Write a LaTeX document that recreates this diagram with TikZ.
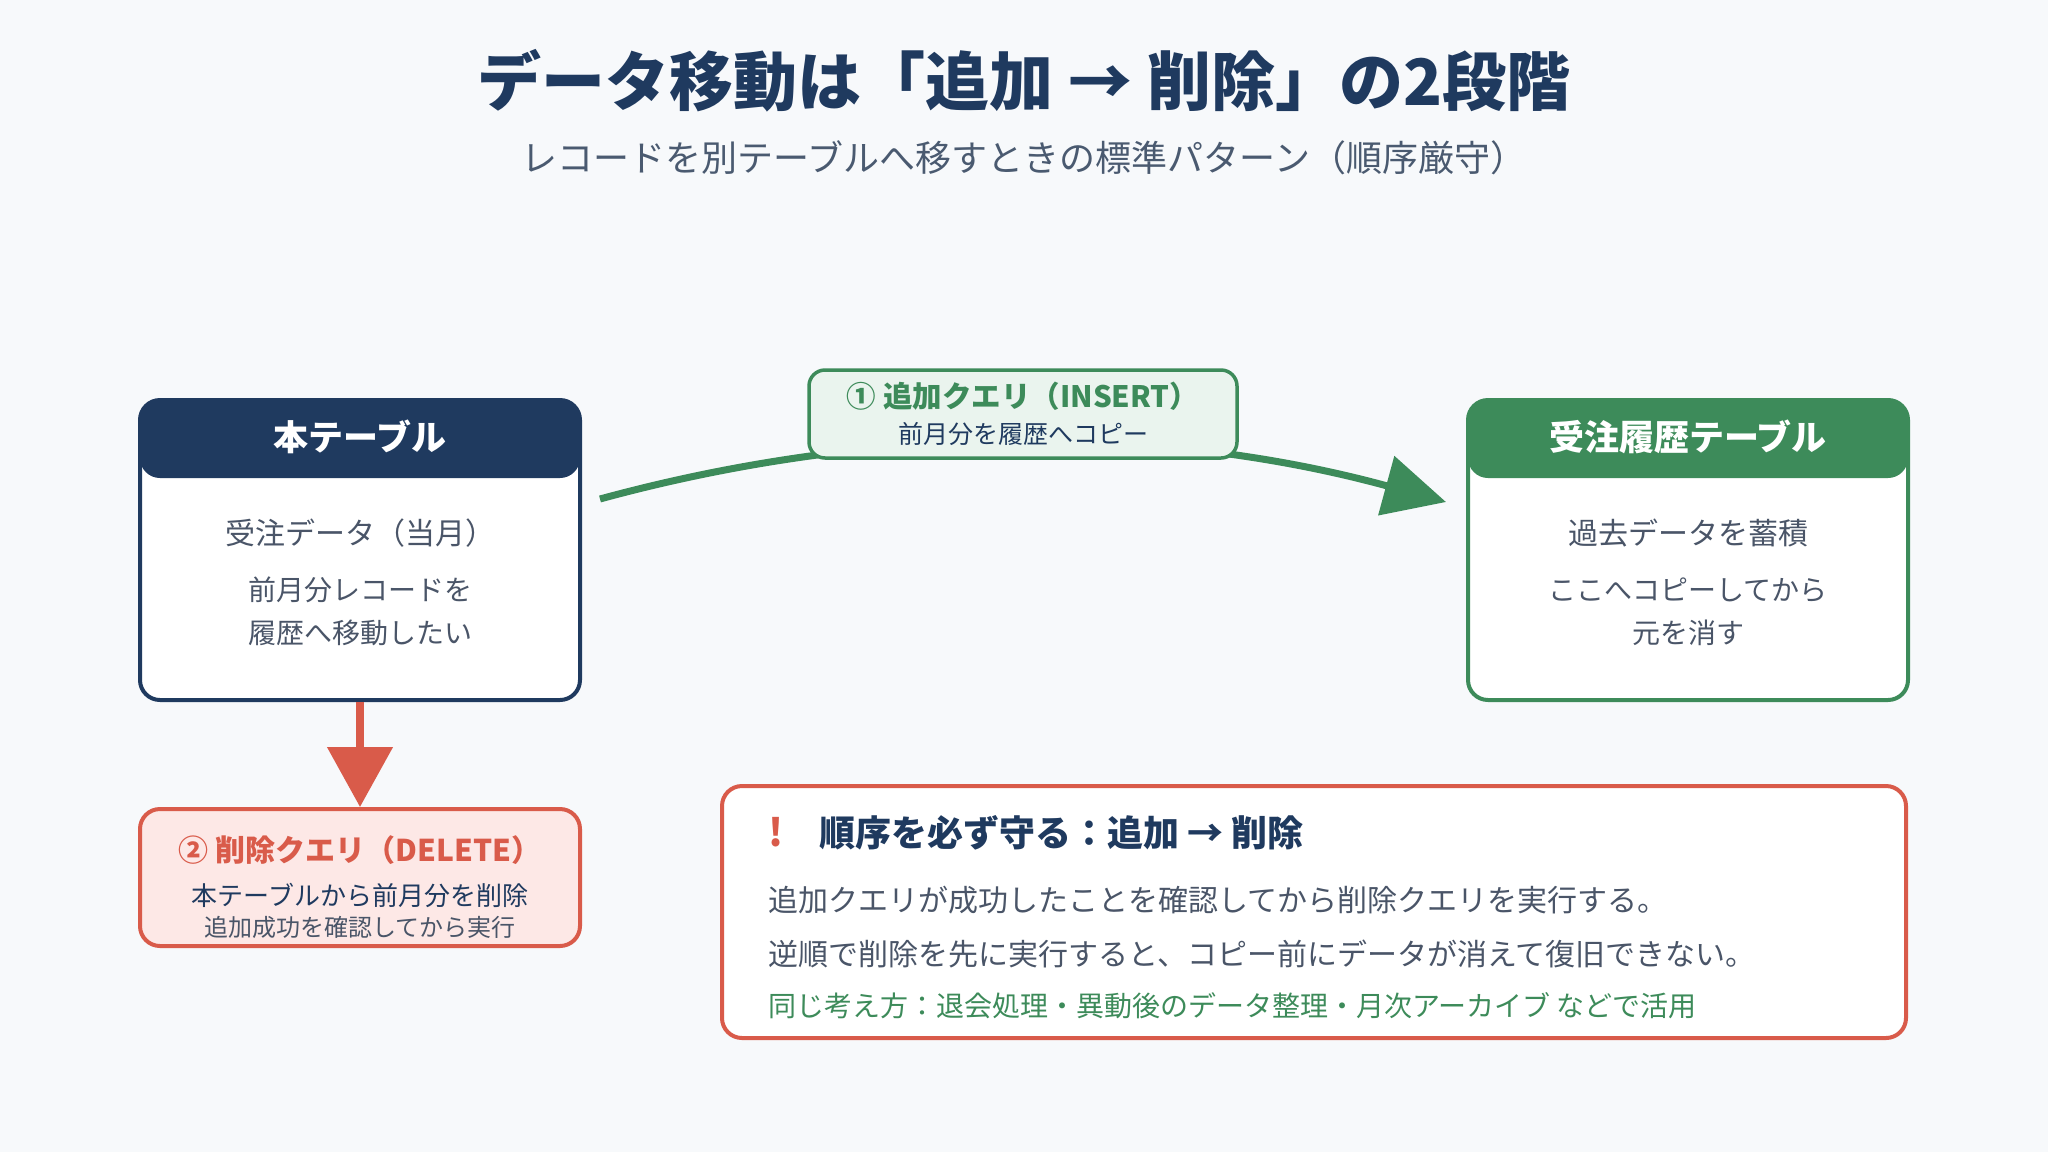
\documentclass[tikz,border=0pt]{standalone}
\usepackage{fontspec}
\setmainfont{Noto Sans CJK JP}
\usetikzlibrary{arrows.meta}
\definecolor{bg}{HTML}{F7F9FB}
\definecolor{navy}{HTML}{1F3A5F}
\definecolor{grn}{HTML}{3D8B5A}
\definecolor{alert}{HTML}{D95B4A}
\definecolor{bodytxt}{HTML}{4A5568}
\definecolor{subtxt}{HTML}{4A5A70}
\definecolor{lgreen}{HTML}{EAF4EE}
\definecolor{lpink}{HTML}{FDE8E6}
\newcommand\fsz[1]{\fontsize{#1pt}{#1pt}\selectfont}
\tikzset{
  tablebox/.style={draw=#1, line width=4pt, rounded corners=20pt, fill=white,
    minimum width=440pt, minimum height=300pt, inner sep=0pt,
    path picture={\fill[#1] (path picture bounding box.north west) rectangle ([yshift=-78pt]path picture bounding box.north east);}},
  lbl/.style={inner sep=0pt, anchor=center},
  hdr/.style={lbl, text=white, font=\fsz{35}\bfseries},
  body/.style={lbl, text=bodytxt},
}
\begin{document}
\begin{tikzpicture}[x=1pt,y=-1pt]
\fill[bg] (0,0) rectangle (2048,1152);
\useasboundingbox (0,0) rectangle (2048,1152);

% titles
\node[lbl, text=navy, font=\fsz{64}\bfseries] (title) at (1024,81) {データ移動は「追加 → 削除」の2段階};
\node[lbl, text=subtxt, font=\fsz{36}] (subtitle) at (1024,158) {レコードを別テーブルへ移すときの標準パターン（順序厳守）};

% main table
\node[tablebox=navy] (main) at (360,550) {};
\node[hdr] (mainh) at (360,437) {本テーブル};
\node[body, font=\fsz{30}] (main1) at (360,533) {受注データ（当月）};
\node[body, font=\fsz{28}] (main2) at (360,590) {前月分レコードを};
\node[body, font=\fsz{28}] (main3) at (360,633) {履歴へ移動したい};

% history table
\node[tablebox=grn] (hist) at (1688,550) {};
\node[hdr] (histh) at (1688,437) {受注履歴テーブル};
\node[body, font=\fsz{30}] (hist1) at (1688,533) {過去データを蓄積};
\node[body, font=\fsz{28}] (hist2) at (1688,590) {ここへコピーしてから};
\node[body, font=\fsz{28}] (hist3) at (1688,633) {元を消す};

% insert arrow
\coordinate (cs) at ([xshift=18pt,yshift=51pt]main.east);
\coordinate (ce) at ([xshift=-20pt,yshift=48pt]hist.west);
\draw[grn, line width=7pt, -{Triangle[length=62pt,width=60pt]}]
  (cs) .. controls ([xshift=282pt,yshift=77pt]cs) and ([xshift=-282pt,yshift=77pt]ce) .. (ce);

% insert label
\node[draw=grn, fill=lgreen, line width=3.5pt, rounded corners=16pt, minimum width=428pt, minimum height=88pt] (ins) at (1023,414) {};
\node[lbl, text=grn, font=\fsz{29.5}\bfseries] (ins1) at (1023,396) {① 追加クエリ（INSERT）};
\node[lbl, text=navy, font=\fsz{25}] (ins2) at (1023,434) {前月分を履歴へコピー};

% delete box
\node[draw=alert, fill=lpink, line width=4pt, rounded corners=20pt, minimum width=440pt, minimum height=137pt] (del) at (360,877.5) {};
\node[lbl, text=alert, font=\fsz{30}\bfseries] (del1) at (360,850) {② 削除クエリ（DELETE）};
\node[lbl, text=navy, font=\fsz{26}] (del2) at (360,895) {本テーブルから前月分を削除};
\node[lbl, text=bodytxt, font=\fsz{24}] (del3) at (360,927) {追加成功を確認してから実行};

\draw[alert, line width=8pt, -{Triangle[length=60pt,width=64pt]}] (main.south) -- (del.north);

% note box
\node[draw=alert, fill=white, line width=4pt, rounded corners=20pt, minimum width=1184pt, minimum height=252pt] (note) at (1314,912) {};
\node[lbl, text=alert, font=\fsz{38}\bfseries] (bang) at (776,832) {!};
\node[lbl, anchor=west, text=navy, font=\fsz{36}\bfseries] (noteh) at (819,833) {順序を必ず守る：追加 → 削除};
\node[lbl, anchor=west, text=bodytxt, font=\fsz{30}] (note1) at (768,900) {追加クエリが成功したことを確認してから削除クエリを実行する。};
\node[lbl, anchor=west, text=bodytxt, font=\fsz{30}] (note2) at (768,954) {逆順で削除を先に実行すると、コピー前にデータが消えて復旧できない。};
\node[lbl, anchor=west, text=grn, font=\fsz{28}] (note3) at (768,1006) {同じ考え方：退会処理・異動後のデータ整理・月次アーカイブ などで活用};
\end{tikzpicture}
\end{document}
